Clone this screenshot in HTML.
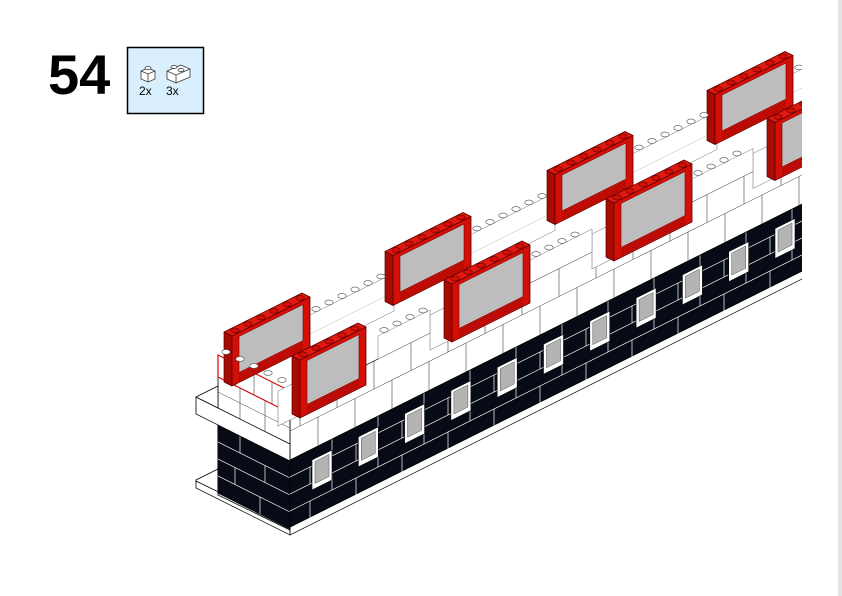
<!DOCTYPE html>
<html><head><meta charset="utf-8"><style>
html,body{margin:0;padding:0;background:#fff;}
body{width:842px;height:596px;overflow:hidden;position:relative;font-family:"Liberation Sans",sans-serif;}
</style></head><body>
<svg width="842" height="596" viewBox="0 0 842 596" xmlns="http://www.w3.org/2000/svg" style="position:absolute;left:0;top:0">
<rect x="838" y="0" width="4" height="596" fill="#e4e4e4"/>
<text x="48" y="94" font-family="Liberation Sans" font-weight="bold" font-size="56" fill="#000">54</text>
<rect x="127.5" y="47.5" width="76" height="66" fill="#d9effd" stroke="#000" stroke-width="1.5"/>
<g stroke="#333" stroke-width="0.8" fill="#fff">
<path d="M141 71 l7 -3 l7 3 v8 l-7 3 l-7 -3z"/><path d="M141 71 l7 3 l7 -3 M148 74 v8"/>
<ellipse cx="148" cy="68" rx="3" ry="1.5"/>
<path d="M167 71 l14 -6 l9 4 v8 l-14 6 l-9 -4z"/><path d="M167 71 l9 4 l14 -6 M176 75 v8"/>
<ellipse cx="174" cy="67" rx="3" ry="1.5"/><ellipse cx="181" cy="70" rx="3" ry="1.5"/>
</g>
<text x="139" y="95" font-size="12" fill="#000">2x</text>
<text x="166" y="95" font-size="12" fill="#000">3x</text>
<defs><clipPath id="c"><rect x="0" y="0" width="802" height="596"/></clipPath></defs>
<g clip-path="url(#c)" stroke-linejoin="round">
<g transform="matrix(1,0.5,0,1,0,0)">
<rect x="196" y="382" width="94" height="8" fill="#fff" stroke="#000" stroke-width="0.8"/>
</g>
<g transform="matrix(1,-0.5,0,1,0,0)">
<rect x="290" y="672" width="520" height="8" fill="#fff" stroke="#000" stroke-width="0.8"/>
</g>
<polygon points="196,480 218,469 218,495 290,530 290,527 196,481" fill="#fff" stroke="#000" stroke-width="0.8"/>
<g transform="matrix(1,0.5,0,1,0,0)">
<rect x="218" y="316" width="72" height="68" fill="#070b16" stroke="#000"/>
<g stroke="#fff" stroke-width="0.7">
<line x1="218" y1="333" x2="290" y2="333"/><line x1="218" y1="350" x2="290" y2="350"/><line x1="218" y1="367" x2="290" y2="367"/>
<line x1="240" y1="316" x2="240" y2="333"/><line x1="265" y1="333" x2="265" y2="350"/><line x1="235" y1="350" x2="235" y2="367"/><line x1="260" y1="367" x2="260" y2="384"/>
</g>
</g>
<g transform="matrix(1,-0.5,0,1,0,0)">
<rect x="290" y="605" width="520" height="67" fill="#070b16" stroke="#000"/>
<g id="bl" stroke="#fff" stroke-width="0.7"></g>
<g id="win"></g>
<rect x="290" y="548" width="520" height="57" fill="#fff" stroke="#000" stroke-width="0.8"/>
<g id="wl" stroke="#444" stroke-width="0.6"></g>
</g>
<g transform="matrix(1,0.5,0,1,0,0)">
<rect x="196" y="299" width="94" height="17" fill="#fff" stroke="#000" stroke-width="0.8"/>
<rect x="218" y="268" width="72" height="31" fill="#fff" stroke="#000" stroke-width="0.8"/>
<rect x="218" y="246" width="72" height="22" fill="#fff" stroke="#d00" stroke-width="1.2"/>
<g stroke="#444" stroke-width="0.6"><line x1="240" y1="268" x2="240" y2="299"/><line x1="265" y1="268" x2="265" y2="299"/><line x1="218" y1="283" x2="290" y2="283"/><line x1="236" y1="246" x2="236" y2="268"/><line x1="254" y1="246" x2="254" y2="268"/><line x1="272" y1="246" x2="272" y2="268"/></g>
</g>
<polygon points="196,397 218,386 218,408 196,397" fill="#fff" stroke="#000" stroke-width="0.8"/>
<g id="back"></g>
<g id="studs"></g>
<g id="front"></g>
<g id="studs2"></g>
</g>
</svg>
<script>
var NS="http://www.w3.org/2000/svg";
function el(p,t,a){var e=document.createElementNS(NS,t);for(var k in a)e.setAttribute(k,a[k]);p.appendChild(e);return e;}
function P(x,yg){return x+","+(yg-0.5*x);}
var bl=document.getElementById('bl');
for(var r=0;r<4;r++){var y=605+r*17;if(r>0)el(bl,'line',{x1:290,y1:y,x2:810,y2:y});
 for(var x=290+(r%2?20:42);x<810;x+=46)el(bl,'line',{x1:x,y1:y,x2:x,y2:y+17});}
var win=document.getElementById('win');
for(var i=0;i<11;i++){var x=312+i*46.3;
 el(win,'rect',{x:x,y:616,width:20,height:30,fill:'#fff',stroke:'#000','stroke-width':0.6});
 el(win,'rect',{x:x+3,y:619,width:14,height:22,fill:'#b4b4b4',stroke:'#555','stroke-width':0.5});}
var wl=document.getElementById('wl');
el(wl,'line',{x1:290,y1:576,x2:810,y2:576});
for(var x=300;x<810;x+=37){el(wl,'line',{x1:x,y1:548,x2:x,y2:576});el(wl,'line',{x1:x+18,y1:576,x2:x+18,y2:605});}
var back=document.getElementById('back'),front=document.getElementById('front');
function poly(g,pts,f,s){el(g,'polygon',{points:pts.join(' '),fill:f,stroke:s,'stroke-width':0.7});}
function panel(g,x,y,w,h){
 var d=8; // depth
 // top face
 poly(g,[P(x,y),P(x+w,y),(x+w-d)+","+(y-0.5*(x+w)-d/2),(x-d)+","+(y-0.5*x-d/2)],'#e01a10','#5a0000');
 // left side face
 poly(g,[P(x,y),(x-d)+","+(y-0.5*x-d/2),(x-d)+","+(y+h-0.5*x-d/2),P(x,y+h)],'#a80a04','#5a0000');
 var gg=el(g,'g',{transform:'matrix(1,-0.5,0,1,0,0)'});
 el(gg,'rect',{x:x,y:y,width:w,height:h,fill:'#d40f07',stroke:'#5a0000','stroke-width':0.8});
 el(gg,'rect',{x:x+7,y:y+4,width:w-14,height:h-14,fill:'#bdbdbd',stroke:'#700','stroke-width':0.6});
 for(var k=0;k<4;k++)el(gg,'line',{x1:x+7,y1:y+h-8+k*2,x2:x+w-7,y2:y+h-8+k*2,stroke:'#7a0000','stroke-width':0.6});
}
var bx=[232,393,555,715];
var bg=el(back,'g',{transform:'matrix(1,-0.5,0,1,0,0)'});
for(var i=0;i<4;i++){
 el(bg,'rect',{x:bx[i]+78,y:470,width:84,height:38,fill:'#fff',stroke:'#999','stroke-width':0.7});
 el(bg,'line',{x1:bx[i]+78,y1:489,x2:bx[i]+162,y2:489,stroke:'#bbb','stroke-width':0.6});
}
for(var i=0;i<4;i++)panel(back,bx[i],452,78,50);
var fx=[300,452,614,775];
var fg=el(front,'g',{transform:'matrix(1,-0.5,0,1,0,0)'});
for(var i=0;i<4;i++)el(fg,'rect',{x:fx[i]-22,y:530,width:22,height:35,fill:'#fff',stroke:'#777','stroke-width':0.6});
for(var i=0;i<3;i++)el(fg,'rect',{x:fx[i]+78,y:525,width:fx[i+1]-fx[i]-100,height:23,fill:'#fff',stroke:'#888','stroke-width':0.6});
for(var i=0;i<4;i++)panel(front,fx[i],510,i==0?66:78,58);
function stud(g,x,y,c){el(g,'ellipse',{cx:x,cy:y,rx:4.2,ry:2.4,fill:c,stroke:c=='#fff'?'#555':'#600','stroke-width':0.6});}
var s=document.getElementById('studs'),s2=document.getElementById('studs2');
for(var i=0;i<4;i++){for(var k=0;k<6;k++){var x=bx[i]+3+k*13;stud(s2,x,452-0.5*x-4,'#d40f07');}
 for(var k=0;k<6;k++){var x=bx[i]+84+k*13;stud(s,x,470-0.5*x-3,'#fff');}}
for(var i=0;i<4;i++){for(var k=0;k<(i==0?5:6);k++){var x=fx[i]+3+k*13;stud(s2,x,510-0.5*x-4,'#d40f07');}
 for(var k=0;k<4;k++){var x=fx[i]+84+k*13;stud(s2,x,525-0.5*x-3,'#fff');}}
for(var k=0;k<5;k++){stud(s2,226+k*14,352+k*7,'#fff');}
</script>
</body></html>
